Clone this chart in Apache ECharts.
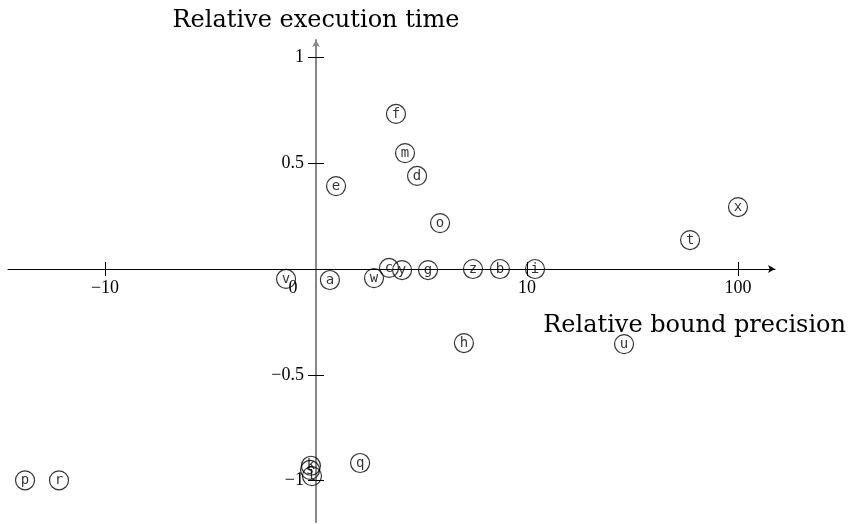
<!DOCTYPE html>
<html>
<head>
<meta charset="utf-8">
<script src="https://cdn.jsdelivr.net/npm/echarts@6/dist/echarts.min.js"></script>
<style>html,body{margin:0;padding:0;background:#fff}#c{width:849px;height:524px}</style>
</head>
<body>
<div id="c"></div>
<script>
// Point labels
const names = ['v','a','e','f','m','d','o','w','c','y','g','z','b','i','h','u','t','x','q','k','s','l','p','r'];
// x in axis units (decades: -1 -> "−10", 0 -> "0", 1 -> "10", 2 -> "100")
const xVals = [-0.142,0.066,0.095,0.379,0.422,0.479,0.588,0.275,0.346,0.408,0.531,0.744,0.872,1.038,0.701,1.460,1.773,2.0,0.209,-0.024,-0.028,-0.019,-1.379,-1.218];
// Relative execution time
const yVals = [-0.047,-0.052,0.392,0.733,0.548,0.440,0.217,-0.043,0.005,-0.005,-0.005,0,0,0,-0.350,-0.355,0.137,0.293,-0.917,-0.930,-0.950,-0.979,-0.999,-0.999];
// Tick positions and labels
const xTickVals = [-1,0,1,2];
const xTickLabels = {'-1':'−10','0':'0','1':'10','2':'100'};
const xTickMarks = [-1,1,2];
const yTickVals = [-1,-0.5,0.5,1];

const data = names.map((n,i)=>({name:n,value:[xVals[i],yVals[i]]}));
const serif = 'Liberation Serif';
const titleFont = 'DejaVu Serif';
const XMIN=-1.4597, XMAX=2.1754, YMIN=-1.196, YMAX=1.0827;
const GL=8, GR=74, GT=40, GB=2;
// pixel offsets so that the axes pass through the origin
const xOff = -((524-GB) - (GT + (YMAX-0)/(YMAX-YMIN)*(524-GT-GB)));
const yOff = -((0-XMIN)/(XMAX-XMIN)*(849-GL-GR));

const chart = echarts.init(document.getElementById('c'));
chart.setOption({
  animation:false,
  backgroundColor:'#fff',
  grid:{left:GL,right:GR,top:GT,bottom:GB,containLabel:false,outerBoundsMode:'none'},
  xAxis:[{
    type:'value',min:XMIN,max:XMAX,position:'bottom',offset:xOff,
    axisLine:{show:true,onZero:false,lineStyle:{color:'#000',width:1},symbol:['none','arrow'],symbolSize:[6,7]},
    axisTick:{show:true,inside:false,length:7,lineStyle:{color:'#000',width:1},customValues:xTickMarks},
    axisLabel:{show:true,margin:10,fontFamily:serif,fontSize:18,color:'#000',customValues:xTickVals,
      formatter:v=>{const k=String(Math.round(v)); return k==='0'?'{z|0}':xTickLabels[k];},
      rich:{z:{fontFamily:serif,fontSize:18,color:'#000',padding:[0,46,0,0]}}},
    splitLine:{show:false},
    name:'Relative bound precision',nameLocation:'end',nameGap:71,
    nameTextStyle:{fontFamily:titleFont,fontSize:24,color:'#000',align:'right',verticalAlign:'top',padding:[45,0,0,0]}
  },{
    type:'value',min:XMIN,max:XMAX,position:'bottom',offset:xOff,
    axisLine:{show:false,onZero:false},
    axisTick:{show:true,inside:true,length:7,lineStyle:{color:'#000',width:1},customValues:xTickMarks},
    axisLabel:{show:false},splitLine:{show:false}
  }],
  yAxis:[{
    type:'value',min:YMIN,max:YMAX,position:'left',offset:yOff,
    axisLine:{show:true,onZero:false,lineStyle:{color:'#888',width:2},symbol:['none','arrow'],symbolSize:[6,7]},
    axisTick:{show:true,inside:false,length:8,lineStyle:{color:'#000',width:1},customValues:yTickVals},
    axisLabel:{show:true,margin:12,fontFamily:serif,fontSize:18,color:'#000',customValues:yTickVals,
      formatter:v=>(v<0?'−':'')+String(Math.abs(v))},
    splitLine:{show:false},
    name:'Relative execution time',nameLocation:'end',nameGap:7,
    nameTextStyle:{fontFamily:titleFont,fontSize:24,color:'#000'}
  },{
    type:'value',min:YMIN,max:YMAX,position:'left',offset:yOff,
    axisLine:{show:false,onZero:false},
    axisTick:{show:true,inside:true,length:8,lineStyle:{color:'#000',width:1},customValues:yTickVals},
    axisLabel:{show:false},splitLine:{show:false}
  }],
  series:[{
    type:'scatter',xAxisIndex:0,yAxisIndex:0,
    symbol:'circle',symbolSize:19,
    itemStyle:{color:'rgba(255,255,255,0)',borderColor:'#000',borderWidth:1.2},
    label:{show:true,position:'inside',formatter:'{b}',fontFamily:'DejaVu Sans Mono',fontSize:14,color:'#000'},
    data:data
  }]
});
</script>
</body>
</html>
